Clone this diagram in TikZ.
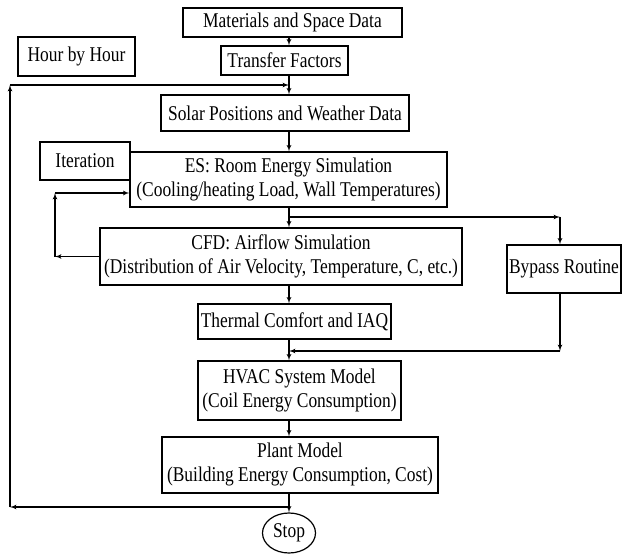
\documentclass[tikz,border=0pt]{standalone}
\usepackage{fontspec}
\setmainfont{Liberation Serif}[FakeStretch=0.83]
\usepackage{tikz}
\usetikzlibrary{arrows,positioning,shapes.geometric}

\begin{document}
\begin{tikzpicture}[
    x=1pt, y=-1pt,
    >=latex',
    line width=1.2pt,
    font=\fontsize{21}{24}\selectfont,
    block/.style={
		rectangle,
		draw=black,
		text centered,
		inner sep=1pt,
		fill=white
	},
	stopnode/.style={
		ellipse,
		draw=black,
		inner sep=0pt,
		minimum width=53pt,
		minimum height=40pt
	}
  ]
  \useasboundingbox (0,0) rectangle (623,556);
  \coordinate (spine) at (289,0);

    % We start by placing the blocks
  \node [block, minimum width=219pt, minimum height=29pt] (materials) at (292.5,22.5) {Materials and Space Data};
  \node [block, minimum width=117pt, minimum height=39pt] (hour) at (76.5,56.5) {Hour by Hour};
  \node [block, minimum width=127pt, minimum height=29pt] (transfer) at (284.5,60.5) {Transfer Factors};
  \node [block, minimum width=248pt, minimum height=36pt] (solar) at (285,113) {Solar Positions and Weather Data};
  \node [block, minimum width=90pt, minimum height=38pt] (iteration) at (85,161) {Iteration};

  \node [block, minimum width=317pt, minimum height=55pt] (es) at (288.5,179.5)
 {%
 \begin{tabular}{@{}c@{}}
  ES: Room Energy Simulation\\
  (Cooling/heating Load, Wall Temperatures)
 \end{tabular}
 };

  \node [block, minimum width=362pt, minimum height=57pt] (cfd) at (281,256.5)
 {%
 \begin{tabular}{@{}c@{}}
  CFD: Airflow Simulation\\
  (Distribution of Air Velocity, Temperature, C, etc.)
 \end{tabular}
 };

  \node [block, minimum width=114pt, minimum height=48pt] (bypass) at (564,269) {Bypass Routine};
  \node [block, minimum width=193pt, minimum height=35pt] (thermal) at (294.5,321.5) {Thermal Comfort and IAQ};

  \node [block, minimum width=203pt, minimum height=59pt] (hvac) at (299.5,390.5)
 {%
 \begin{tabular}{@{}c@{}}
  HVAC System Model\\
  (Coil Energy Consumption)
 \end{tabular}
 };

  \node [block, minimum width=276pt, minimum height=56pt] (plant) at (300,465)
 {%
 \begin{tabular}{@{}c@{}}
  Plant Model\\
  (Building Energy Consumption, Cost)
 \end{tabular}
 };

  \node [stopnode] (stop) at (289,533) {Stop};

  % main chain
  \draw [->] (materials.south -| spine) -- (transfer.north -| spine);
  \draw [->] (transfer.south -| spine) -- (solar.north -| spine);
  \draw [->] (solar.south -| spine) -- (es.north -| spine);
  \draw [->] (es.south -| spine) -- (cfd.north -| spine);
  \draw [->] (cfd.south -| spine) -- (thermal.north -| spine);
  \draw [->] (thermal.south -| spine) -- (hvac.north -| spine);
  \draw [->] (hvac.south -| spine) -- (plant.north -| spine);
  \draw [->] (plant.south -| spine) -- (stop);

  % bypass
  \coordinate (split) at (289,217);
  \coordinate (bycorner) at (560,217);
  \coordinate (byret) at (560,351);
  \coordinate (merge) at (289,351);
  \draw [->] (split) -- (bycorner);
  \draw [->] (bycorner) -- (bypass.north -| bycorner);
  \draw [->] (bypass.south -| bycorner) -- (byret);
  \draw [->] (byret) -- (merge);

  % iteration loop
  \coordinate (itlow) at (55,256.5);
  \coordinate (ithigh) at (55,193);
  \draw [->] (cfd.west) -- (itlow);
  \draw [->] (itlow) -- (ithigh);
  \draw [->] (ithigh) -- (ithigh -| es.west);

  % hour by hour loop
  \coordinate (pjoin) at (289,507);
  \coordinate (hlow) at (10,507);
  \coordinate (hhigh) at (10,85);
  \coordinate (hjoin) at (289,85);
  \draw [->] (pjoin) -- (hlow);
  \draw [->] (hlow) -- (hhigh);
  \draw [->] (hhigh) -- (hjoin);

\end{tikzpicture}
\end{document}
